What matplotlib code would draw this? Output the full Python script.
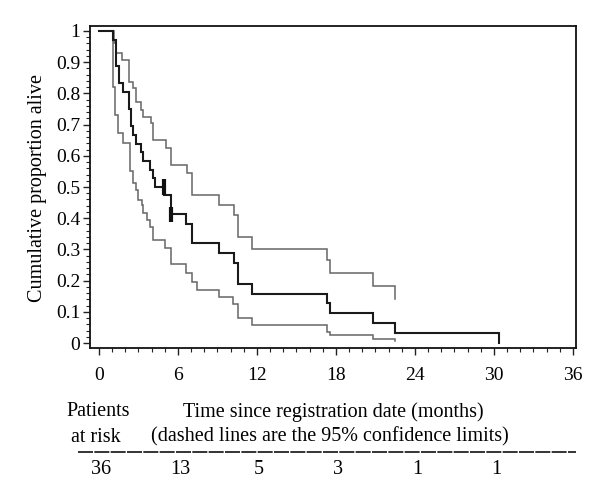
import matplotlib
matplotlib.use("Agg")
import matplotlib.pyplot as plt
from matplotlib.ticker import MultipleLocator, FixedLocator

plt.rcParams['font.family'] = ['Liberation Serif', 'DejaVu Serif']

# Kaplan-Meier estimate (step times, survival after step)
km_t = [0, 1.05, 1.27, 1.54, 1.85, 2.3, 2.4, 2.6, 2.85, 3.2, 3.37, 3.9, 4.12, 4.25,
        4.94, 5.47, 6.6, 7.03, 9.13, 10.25, 10.58, 11.64, 17.3, 17.54, 20.78, 22.5, 30.4]
km_s = [1.0, 0.972, 0.889, 0.833, 0.806, 0.75, 0.694, 0.667, 0.639, 0.611, 0.583, 0.556, 0.528, 0.5,
        0.474, 0.412, 0.381, 0.319, 0.288, 0.257, 0.19, 0.158, 0.127, 0.095, 0.063, 0.032, 0.0]
km_end = 30.4

# Upper 95% confidence limit
up_t = [0, 1.14, 1.3, 1.77, 2.3, 2.55, 2.81, 3.16, 3.31, 3.92, 4.12, 5.09, 5.44, 6.65,
        7.03, 9.13, 10.25, 10.58, 11.64, 17.3, 17.54, 20.78, 22.5]
up_s = [1.0, 0.961, 0.929, 0.907, 0.838, 0.816, 0.773, 0.747, 0.725, 0.704, 0.651, 0.624, 0.571, 0.544,
        0.474, 0.442, 0.41, 0.34, 0.301, 0.266, 0.223, 0.183, 0.14]

# Lower 95% confidence limit
lo_t = [0, 1.04, 1.21, 1.46, 1.79, 2.35, 2.55, 2.81, 2.99, 3.24, 3.37, 3.67, 3.87, 4.12,
        5.01, 5.44, 6.6, 7.03, 7.41, 9.13, 10.2, 10.55, 11.64, 17.3, 17.54, 20.78, 22.5]
lo_s = [1.0, 0.822, 0.731, 0.672, 0.64, 0.55, 0.512, 0.49, 0.458, 0.442, 0.416, 0.394, 0.373, 0.33,
        0.305, 0.253, 0.223, 0.197, 0.17, 0.146, 0.124, 0.079, 0.058, 0.036, 0.025, 0.012, 0.005]
ci_end = 22.5

# Censored observations
cens_t = [4.95, 5.5]
cens_s = [0.5, 0.412]

# Patients at risk
risk_t = [0, 6, 12, 18, 24, 30]
risk_n = ["36", "13", "5", "3", "1", "1"]

W, H = 600, 482
fig = plt.figure(figsize=(6.0, 4.82), dpi=100)
ax = fig.add_axes([90 / W, 1 - 348 / H, (576 - 90) / W, (348 - 26) / H])

def stairs(t, s, end):
    xs, ys = [], []
    for i in range(len(t)):
        xs.append(t[i]); ys.append(s[i - 1] if i > 0 else s[0])
        xs.append(t[i]); ys.append(s[i])
    if end > t[-1]:
        xs.append(end); ys.append(s[-1])
    return xs, ys

x, y = stairs(up_t, up_s, ci_end)
ax.plot(x, y, color='#666666', lw=1.1, solid_joinstyle='miter')
x, y = stairs(lo_t, lo_s, ci_end)
ax.plot(x, y, color='#666666', lw=1.1, solid_joinstyle='miter')
x, y = stairs(km_t, km_s, km_end)
ax.plot(x, y, color='#1a1a1a', lw=1.5, solid_joinstyle='miter')
for ct, cs in zip(cens_t, cens_s):
    ax.plot([ct, ct], [cs - 0.025, cs + 0.025], color='#111111', lw=3.0, solid_capstyle='butt')

ax.set_xlim(-0.68, 36.23)
ax.set_ylim(-0.016, 1.016)
ax.xaxis.set_major_locator(FixedLocator([0, 6, 12, 18, 24, 30, 36]))
ax.xaxis.set_minor_locator(MultipleLocator(1))
ax.yaxis.set_minor_locator(MultipleLocator(0.02))
yt = [0, 0.1, 0.2, 0.3, 0.4, 0.5, 0.6, 0.7, 0.8, 0.9, 1]
ax.set_yticks(yt)
ax.set_yticklabels(['0', '0.1', '0.2', '0.3', '0.4', '0.5', '0.6', '0.7', '0.8', '0.9', '1'])
ax.tick_params(axis='both', which='major', direction='out', length=5, width=1, labelsize=14, color='#222222')
ax.tick_params(axis='both', which='minor', direction='out', length=3, width=0.8, color='#222222')
ax.tick_params(axis='x', which='major', pad=9)
ax.tick_params(axis='y', which='major', pad=2)
for sp in ax.spines.values():
    sp.set_linewidth(1.3)
    sp.set_color('#111111')

def ft(px, py, s, **kw):
    fig.text(px / W, 1 - py / H, s, **kw)

ft(38, 188, 'Cumulative proportion alive', rotation=90, ha='center', va='center', fontsize=14.5)
ft(98, 412, 'Patients', ha='center', va='center', fontsize=14.5)
ft(96, 437, 'at risk', ha='center', va='center', fontsize=14.5)
ft(333, 412, 'Time since registration date (months)', ha='center', va='center', fontsize=14.5)
ft(330, 437, '(dashed lines are the 95% confidence limits)', ha='center', va='center', fontsize=14.5)
fig.add_artist(plt.Line2D([78 / W, 576 / W], [1 - 452 / H, 1 - 452 / H], color='#111111', lw=1.2,
                          linestyle=(0, (9, 0.8))))
for t, n in zip(risk_t, risk_n):
    px = ax.transData.transform((t, 0))[0]
    fig.text(px / W + 2 / W, 1 - 470 / H, n, ha='center', va='center', fontsize=14.5)

fig.savefig('out.png', dpi=100, facecolor='white')
